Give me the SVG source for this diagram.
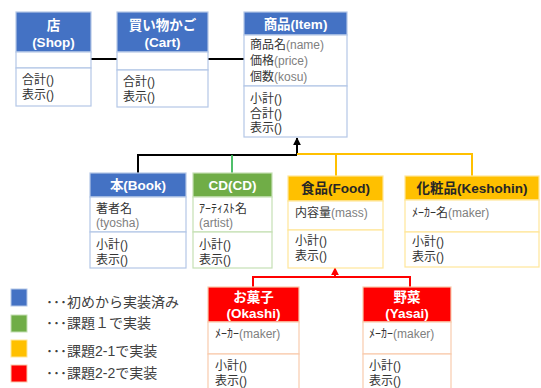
<svg xmlns="http://www.w3.org/2000/svg" width="541" height="388" viewBox="0 0 541 388">
<style>
text{font-family:"Liberation Sans","Noto Sans CJK JP",sans-serif;}
.h{font-size:13.5px;font-weight:bold;fill:#fff;text-anchor:middle;}
.b{font-size:12px;fill:#333;}
.g{fill:#808080;}
.lg{font-size:14px;fill:#404040;}
.bb{fill:#fff;stroke:#b4c7e7;stroke-width:1.2;}
.bh{fill:#4472c4;stroke:#b4c7e7;stroke-width:1.2;}
.gb{fill:#fff;stroke:#c5e0b4;stroke-width:1.2;}
.gh{fill:#70ad47;stroke:#c5e0b4;stroke-width:1.2;}
.yb{fill:#fff;stroke:#ffe699;stroke-width:1.2;}
.yh{fill:#ffc000;stroke:#ffe699;stroke-width:1.2;}
.rb{fill:#fff;stroke:#f8cbad;stroke-width:1.2;}
.rh{fill:#ff0000;stroke:#f8cbad;stroke-width:1.2;}
.k{fill:none;stroke:#000;stroke-width:2;}
.gl{fill:none;stroke:#3cb85a;stroke-width:1.8;}
.yl{fill:none;stroke:#ffc000;stroke-width:2;}
.rl{fill:none;stroke:#ff0000;stroke-width:2;}
</style>
<defs>
<marker id="ak" viewBox="0 0 10 10" refX="9" refY="5" markerWidth="4" markerHeight="4" orient="auto"><path d="M0,0 L10,5 L0,10 z" fill="#000"/></marker>
<marker id="ar" viewBox="0 0 10 10" refX="9" refY="5" markerWidth="4" markerHeight="4" orient="auto"><path d="M0,0 L10,5 L0,10 z" fill="#ff0000"/></marker>
</defs>
<g id="connectors">
<line class="k" x1="91" y1="59" x2="117" y2="59"/>
<line class="k" x1="208" y1="59" x2="244" y2="59"/>
<polyline class="k" points="138,173 138,155 297,155"/>
<line class="k" x1="297" y1="155" x2="297" y2="138" marker-end="url(#ak)"/>
<line class="gl" x1="232" y1="155" x2="232" y2="173"/>
<polyline class="yl" points="297,154 472,154 472,176"/>
<line class="yl" x1="336" y1="154" x2="336" y2="176"/>
<polyline class="rl" points="253,287 253,277 410,277 410,287"/>
<line class="rl" x1="335" y1="277" x2="335" y2="268" marker-end="url(#ar)"/>
</g>
<g id="shop">
<rect class="bh" x="16" y="12" width="75" height="40"/>
<rect class="bb" x="16" y="52" width="75" height="16"/>
<rect class="bb" x="16" y="68" width="75" height="38"/>
<text class="h" x="53.5" y="30">店</text>
<text class="h" x="53.5" y="47">(Shop)</text>
<text class="b" x="22" y="84">合計()</text>
<text class="b" x="22" y="99">表示()</text>
</g>
<g id="cart">
<rect class="bh" x="117" y="12" width="91" height="40"/>
<rect class="bb" x="117" y="52" width="91" height="18"/>
<rect class="bb" x="117" y="70" width="91" height="37"/>
<text class="h" x="162.5" y="30">買い物かご</text>
<text class="h" x="162.5" y="47">(Cart)</text>
<text class="b" x="123" y="86">合計()</text>
<text class="b" x="123" y="101">表示()</text>
</g>
<g id="item">
<rect class="bh" x="244" y="12" width="103" height="23"/>
<rect class="bb" x="244" y="35" width="103" height="51"/>
<rect class="bb" x="244" y="86" width="103" height="51"/>
<text class="h" x="295.5" y="28.5">商品(Item)</text>
<text class="b" x="250" y="49">商品名<tspan class="g">(name)</tspan></text>
<text class="b" x="250" y="65">価格<tspan class="g">(price)</tspan></text>
<text class="b" x="250" y="81">個数<tspan class="g">(kosu)</tspan></text>
<text class="b" x="250" y="103">小計()</text>
<text class="b" x="250" y="117.5">合計()</text>
<text class="b" x="250" y="132">表示()</text>
</g>
<g id="book">
<rect class="bh" x="90" y="173" width="96" height="24"/>
<rect class="bb" x="90" y="197" width="96" height="35"/>
<rect class="bb" x="90" y="232" width="96" height="36"/>
<text class="h" x="138" y="190">本(Book)</text>
<text class="b" x="96" y="212.5">著者名</text>
<text class="b g" x="96" y="227">(tyosha)</text>
<text class="b" x="96" y="249">小計()</text>
<text class="b" x="96" y="263.5">表示()</text>
</g>
<g id="cd">
<rect class="gh" x="193" y="173" width="79" height="24"/>
<rect class="gb" x="193" y="197" width="79" height="35"/>
<rect class="gb" x="193" y="232" width="79" height="36"/>
<text class="h" x="232.5" y="190">CD(CD)</text>
<text class="b" x="199" y="212.5">ｱｰﾃｨｽﾄ名</text>
<text class="b g" x="199" y="227">(artist)</text>
<text class="b" x="199" y="249">小計()</text>
<text class="b" x="199" y="263.5">表示()</text>
</g>
<g id="food">
<rect class="yh" x="288" y="176" width="95" height="25"/>
<rect class="yb" x="288" y="201" width="95" height="29"/>
<rect class="yb" x="288" y="230" width="95" height="38"/>
<text class="h" x="335.5" y="193" style="fill:#262626">食品(Food)</text>
<text class="b" x="295" y="217">内容量<tspan class="g">(mass)</tspan></text>
<text class="b" x="295" y="245">小計()</text>
<text class="b" x="295" y="260">表示()</text>
</g>
<g id="keshohin">
<rect class="yh" x="405" y="176" width="134" height="24"/>
<rect class="yb" x="405" y="200" width="134" height="32"/>
<rect class="yb" x="405" y="232" width="134" height="35"/>
<text class="h" x="472" y="193" style="fill:#262626">化粧品(Keshohin)</text>
<text class="b" x="412" y="217">ﾒｰｶｰ名<tspan class="g">(maker)</tspan></text>
<text class="b" x="412" y="246">小計()</text>
<text class="b" x="412" y="261">表示()</text>
</g>
<g id="okashi">
<rect class="rh" x="208" y="287" width="91" height="35"/>
<rect class="rb" x="208" y="322" width="91" height="32"/>
<rect class="rb" x="208" y="354" width="91" height="40"/>
<text class="h" x="253.5" y="302">お菓子</text>
<text class="h" x="253.5" y="318">(Okashi)</text>
<text class="b" x="215" y="338">ﾒｰｶｰ<tspan class="g">(maker)</tspan></text>
<text class="b" x="215" y="370">小計()</text>
<text class="b" x="215" y="384.5">表示()</text>
</g>
<g id="yasai">
<rect class="rh" x="363" y="287" width="88" height="35"/>
<rect class="rb" x="363" y="322" width="88" height="32"/>
<rect class="rb" x="363" y="354" width="88" height="40"/>
<text class="h" x="407" y="302">野菜</text>
<text class="h" x="407" y="318">(Yasai)</text>
<text class="b" x="369" y="338">ﾒｰｶｰ<tspan class="g">(maker)</tspan></text>
<text class="b" x="369" y="370">小計()</text>
<text class="b" x="369" y="384.5">表示()</text>
</g>
<g id="legend">
<rect x="11" y="289" width="16" height="17" fill="#4472c4" stroke="#b4c7e7"/>
<rect x="11" y="315" width="16" height="17" fill="#70ad47" stroke="#c5e0b4"/>
<rect x="11" y="340" width="16" height="17" fill="#ffc000" stroke="#ffe699"/>
<rect x="11" y="365" width="16" height="17" fill="#ff0000" stroke="#f8cbad"/>
<text class="lg" x="46" y="307">･･･初めから実装済み</text>
<text class="lg" x="46" y="328">･･･課題１で実装</text>
<text class="lg" x="46" y="356">･･･課題2-1で実装</text>
<text class="lg" x="46" y="378">･･･課題2-2で実装</text>
</g>
</svg>
